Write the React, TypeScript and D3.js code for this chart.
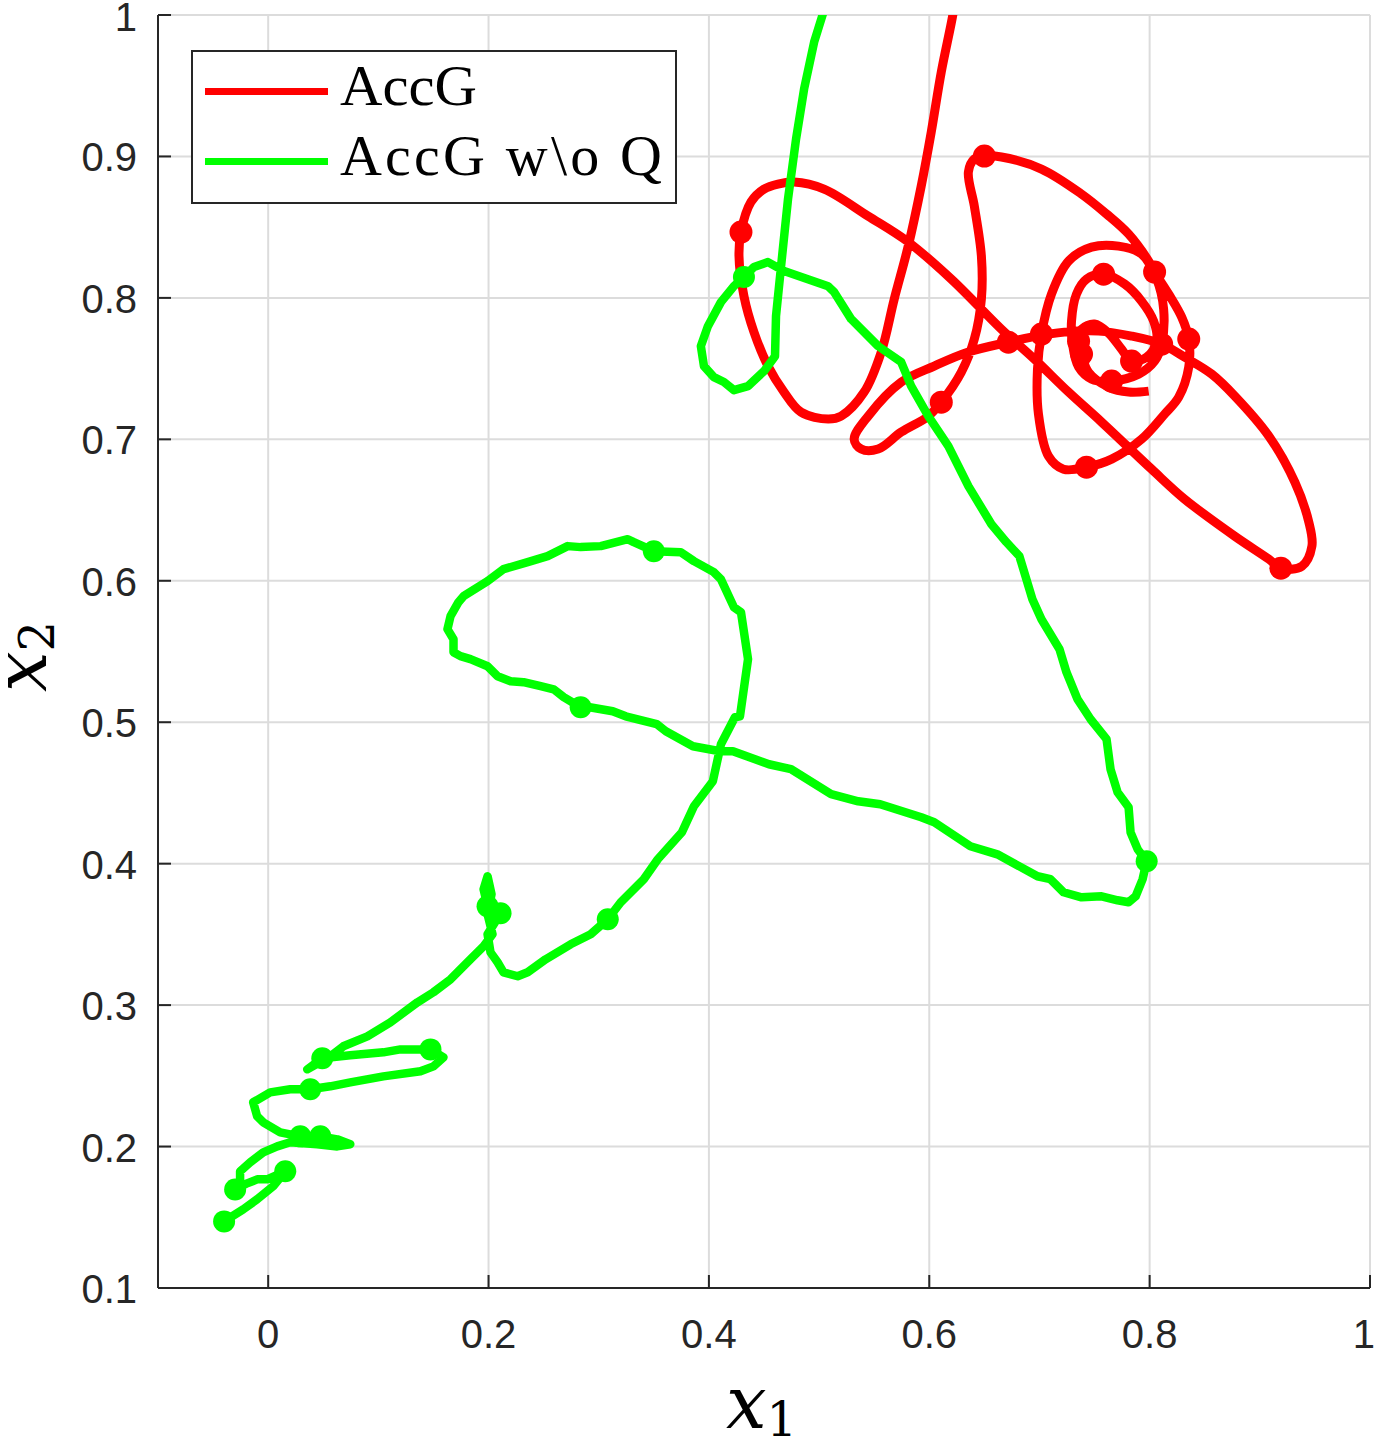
import React from "react";
import * as d3 from "d3";

// ---------- data (x1, x2) ----------
const X_TICKS = [0, 0.2, 0.4, 0.6, 0.8, 1];
const Y_TICKS = [0.1, 0.2, 0.3, 0.4, 0.5, 0.6, 0.7, 0.8, 0.9, 1];
const X_TICK_LABELS = ["0", "0.2", "0.4", "0.6", "0.8", "1"];
const Y_TICK_LABELS = ["0.1", "0.2", "0.3", "0.4", "0.5", "0.6", "0.7", "0.8", "0.9", "1"];
const SERIES_NAMES = ["AccG", "AccG w\\o Q"];

const accgPath: [number, number][] = [
  [0.623, 1.01], [0.6215, 1.0007], [0.6109, 0.9597], [0.6018, 0.9173], [0.5927, 0.8791],
  [0.5809, 0.8366], [0.5682, 0.7992], [0.5564, 0.7617], [0.5409, 0.7334], [0.52, 0.7164],
  [0.5082, 0.7143], [0.4836, 0.7192], [0.4682, 0.7334], [0.4536, 0.7518], [0.4409, 0.7758],
  [0.4318, 0.8013], [0.4273, 0.8296], [0.4291, 0.8465], [0.4382, 0.8678], [0.45, 0.8769],
  [0.4627, 0.8805], [0.4773, 0.8819], [0.5045, 0.8769], [0.5445, 0.8578], [0.5809, 0.8395],
  [0.62, 0.8133], [0.6655, 0.7779], [0.6955, 0.7567], [0.7264, 0.7334], [0.7564, 0.7122],
  [0.8018, 0.6789], [0.8318, 0.6577], [0.8773, 0.6315], [0.9082, 0.6153], [0.9191, 0.6089],
  [0.9382, 0.6103], [0.9473, 0.6245], [0.9445, 0.6414], [0.9318, 0.6697], [0.9082, 0.7023],
  [0.8773, 0.7306], [0.8564, 0.7461], [0.8318, 0.7581], [0.8109, 0.7673], [0.7836, 0.773],
  [0.7536, 0.7765], [0.7227, 0.7758], [0.6927, 0.7723], [0.6718, 0.7687], [0.6355, 0.7617],
  [0.6045, 0.7518], [0.5745, 0.7405], [0.5445, 0.7164], [0.5318, 0.7001], [0.5382, 0.6931],
  [0.5536, 0.6931], [0.5745, 0.7051], [0.5991, 0.7164], [0.6109, 0.7263], [0.6291, 0.7475],
  [0.6409, 0.7709], [0.6473, 0.7992], [0.6473, 0.8296], [0.6409, 0.8649], [0.6355, 0.889],
  [0.6409, 0.8982], [0.65, 0.9003], [0.6655, 0.8996], [0.7018, 0.8911], [0.7382, 0.8734],
  [0.7609, 0.8593], [0.7809, 0.8451], [0.7991, 0.826], [0.8045, 0.8183], [0.8173, 0.8027],
  [0.8291, 0.7864], [0.8355, 0.7709], [0.8355, 0.7511], [0.8264, 0.7298], [0.8136, 0.7178],
  [0.7927, 0.7001], [0.7655, 0.686], [0.7427, 0.6803], [0.7218, 0.6789], [0.7082, 0.6881],
  [0.6991, 0.7178], [0.6982, 0.7496], [0.7018, 0.7744], [0.7109, 0.8027], [0.7264, 0.826],
  [0.7473, 0.8359], [0.7718, 0.8366], [0.7927, 0.831], [0.8064, 0.8133], [0.8127, 0.7921],
  [0.8109, 0.7673], [0.8045, 0.7553], [0.79, 0.7461], [0.7655, 0.7412], [0.7473, 0.7426],
  [0.7355, 0.7511], [0.73, 0.7673], [0.7291, 0.7836], [0.7336, 0.8027], [0.7427, 0.8133],
  [0.7582, 0.8168], [0.7773, 0.8098], [0.7927, 0.7977], [0.8036, 0.7836], [0.8064, 0.7694],
  [0.7973, 0.7581], [0.7836, 0.7553], [0.7745, 0.7638], [0.7627, 0.7751], [0.75, 0.7815],
  [0.7382, 0.7779], [0.7355, 0.7694], [0.7382, 0.7603], [0.7445, 0.7475], [0.7627, 0.7369],
  [0.7809, 0.7334], [0.7991, 0.7341],
];

const accgMarkers: [number, number][] = [
  [0.4291, 0.8465], [0.9191, 0.6089], [0.6718, 0.7687], [0.6109, 0.7263], [0.65, 0.9003],
  [0.8045, 0.8183], [0.8355, 0.7709], [0.7427, 0.6803], [0.7018, 0.7744], [0.8109, 0.7673],
  [0.7655, 0.7412], [0.7582, 0.8168], [0.7836, 0.7553], [0.7355, 0.7694], [0.7382, 0.7603],
];

const noQPath: [number, number][] = [
  [0.5036, 1.0057], [0.5034, 1.0007], [0.4955, 0.9809], [0.4864, 0.9477], [0.4791, 0.9123],
  [0.4718, 0.8699], [0.4655, 0.8225], [0.4609, 0.7871], [0.46, 0.7588], [0.45, 0.7482],
  [0.4355, 0.7376], [0.4227, 0.7348], [0.4136, 0.7405], [0.4045, 0.744], [0.3955, 0.7518],
  [0.3927, 0.7659], [0.3991, 0.78], [0.4109, 0.797], [0.4227, 0.8083], [0.4318, 0.8147],
  [0.4409, 0.8218], [0.4536, 0.8253], [0.4682, 0.819], [0.5082, 0.8083], [0.5136, 0.8041],
  [0.5291, 0.785], [0.5536, 0.7659], [0.5745, 0.7546], [0.5836, 0.7376], [0.5991, 0.7164],
  [0.6173, 0.6952], [0.6355, 0.6669], [0.6564, 0.64], [0.67, 0.6273], [0.6818, 0.6174],
  [0.6936, 0.587], [0.7018, 0.5728], [0.7182, 0.5516], [0.7245, 0.5354], [0.7345, 0.5163],
  [0.7464, 0.5021], [0.7609, 0.488], [0.7645, 0.4668], [0.7709, 0.4505], [0.7809, 0.4399],
  [0.7827, 0.4222], [0.7891, 0.4102], [0.7973, 0.4017], [0.7936, 0.389], [0.7873, 0.3769],
  [0.7809, 0.3727], [0.7709, 0.3741], [0.7564, 0.3769], [0.7382, 0.3762], [0.7218, 0.3798],
  [0.71, 0.389], [0.6982, 0.3911], [0.6618, 0.4066], [0.6373, 0.4123], [0.6045, 0.4293],
  [0.5927, 0.4328], [0.5555, 0.442], [0.5355, 0.4441], [0.5109, 0.4491], [0.4745, 0.4668],
  [0.4545, 0.4703], [0.4218, 0.4795], [0.41, 0.4795], [0.3855, 0.483], [0.3609, 0.4936],
  [0.3527, 0.4986], [0.3245, 0.5042], [0.3127, 0.5078], [0.2918, 0.5106], [0.2836, 0.5106],
  [0.2682, 0.5177], [0.2591, 0.5233], [0.2473, 0.5255], [0.2318, 0.5283], [0.22, 0.529],
  [0.2082, 0.5325], [0.1991, 0.5396], [0.1836, 0.5446], [0.1745, 0.5467], [0.1682, 0.5495],
  [0.1682, 0.5587], [0.1627, 0.5658], [0.1655, 0.575], [0.1727, 0.5849], [0.1773, 0.5891],
  [0.1991, 0.5997], [0.2136, 0.6082], [0.2355, 0.6132], [0.2536, 0.6174], [0.2718, 0.6245],
  [0.2836, 0.6238], [0.3018, 0.6245], [0.3264, 0.6294], [0.3318, 0.6273], [0.35, 0.6209],
  [0.3745, 0.6202], [0.3864, 0.6139], [0.4045, 0.6061], [0.4109, 0.6011], [0.4227, 0.5813],
  [0.4291, 0.5778], [0.4355, 0.5446], [0.4282, 0.5042], [0.4236, 0.5035], [0.4109, 0.4844],
  [0.4036, 0.4583], [0.3864, 0.4406], [0.3755, 0.4222], [0.3536, 0.4031], [0.3409, 0.389],
  [0.32, 0.3727], [0.3082, 0.3607], [0.2927, 0.3501], [0.2745, 0.343], [0.2518, 0.3324],
  [0.2355, 0.3232], [0.2264, 0.3204], [0.2136, 0.3232], [0.2082, 0.3303], [0.2018, 0.3373],
  [0.1991, 0.3501], [0.2109, 0.3649], [0.1991, 0.3699], [0.1955, 0.3819], [0.1991, 0.3911],
  [0.2027, 0.3784], [0.1991, 0.3642], [0.2036, 0.3501], [0.1955, 0.3416], [0.1836, 0.3324],
  [0.1655, 0.3182], [0.15, 0.3091], [0.1355, 0.302], [0.1109, 0.2878], [0.09, 0.2779],
  [0.0682, 0.2709], [0.0564, 0.2638], [0.0355, 0.2546], [0.0491, 0.2624], [0.0745, 0.2645],
  [0.1045, 0.2666], [0.12, 0.2687], [0.1473, 0.2687], [0.1591, 0.2631], [0.15, 0.2567],
  [0.1382, 0.2532], [0.1045, 0.2496], [0.0745, 0.2454], [0.0564, 0.2426], [0.0382, 0.2405],
  [0.02, 0.2405], [0.0018, 0.2383], [-0.0136, 0.2313], [-0.01, 0.2214], [-0.0045, 0.2171],
  [0.0109, 0.21], [0.0291, 0.2072], [0.0473, 0.2072], [0.0627, 0.2051], [0.0745, 0.2016],
  [0.0627, 0.2001], [0.0445, 0.2016], [0.02, 0.203], [0.0082, 0.2001], [-0.0045, 0.1959],
  [-0.0164, 0.1888], [-0.0255, 0.1825], [-0.0255, 0.1768], [-0.03, 0.1697], [-0.0191, 0.174],
  [-0.01, 0.1768], [-0.0009, 0.1768], [0.0155, 0.1825], [0.0045, 0.1719], [-0.01, 0.1627],
  [-0.0227, 0.1556], [-0.04, 0.1471],
];

const noQMarkers: [number, number][] = [
  [0.4318, 0.8147], [0.7973, 0.4017], [0.2836, 0.5106], [0.35, 0.6209], [0.3082, 0.3607],
  [0.2109, 0.3649], [0.1991, 0.3699], [0.0491, 0.2624], [0.1473, 0.2687], [0.0382, 0.2405],
  [0.0291, 0.2072], [0.0473, 0.2072], [-0.03, 0.1697], [0.0155, 0.1825], [-0.04, 0.1471],
];

// ---------- layout ----------
const W = 1376;
const H = 1447;
const L = 158, R = 1370, T = 15, B = 1288;
const AX = "#262626";

export default function App() {
  const x = d3.scaleLinear().domain([-0.1, 1]).range([L, R]);
  const y = d3.scaleLinear().domain([0.1, 1]).range([B, T]);

  const smooth = d3
    .line<[number, number]>()
    .x((d) => x(d[0]))
    .y((d) => y(d[1]))
    .curve(d3.curveCatmullRom.alpha(0.5));
  const straight = d3
    .line<[number, number]>()
    .x((d) => x(d[0]))
    .y((d) => y(d[1]));

  const tickFont = "'Liberation Sans', Arial, Helvetica, sans-serif";
  const serif = "'Liberation Serif', 'Times New Roman', serif";

  return (
    <svg
      width={W}
      height={H}
      style={{ position: "absolute", left: 0, top: 0, background: "#fff" }}
    >
      <defs>
        <clipPath id="plotClip">
          <rect x={L} y={T} width={R - L} height={B - T} />
        </clipPath>
      </defs>
      <rect x={0} y={0} width={W} height={H} fill="#fff" />

      {/* grid */}
      <g stroke="#dcdcdc" strokeWidth={2}>
        {X_TICKS.map((t) => (
          <line key={"gx" + t} x1={x(t)} x2={x(t)} y1={T} y2={B} />
        ))}
        {Y_TICKS.map((t) => (
          <line key={"gy" + t} x1={L} x2={R} y1={y(t)} y2={y(t)} />
        ))}
      </g>

      {/* data */}
      <g clipPath="url(#plotClip)">
        <path
          d={smooth(accgPath) || ""}
          fill="none"
          stroke="#ff0000"
          strokeWidth={9}
          strokeLinejoin="round"
          strokeLinecap="butt"
        />
        {accgMarkers.map((d, i) => (
          <circle key={"rm" + i} cx={x(d[0])} cy={y(d[1])} r={11.5} fill="#ff0000" />
        ))}
        <path
          d={straight(noQPath) || ""}
          fill="none"
          stroke="#00ff00"
          strokeWidth={8.5}
          strokeLinejoin="round"
          strokeLinecap="butt"
        />
        {noQMarkers.map((d, i) => (
          <circle key={"gm" + i} cx={x(d[0])} cy={y(d[1])} r={11} fill="#00ff00" />
        ))}
      </g>

      {/* axes */}
      <g stroke={AX} strokeWidth={2} fill="none">
        <line x1={L} x2={R} y1={B} y2={B} />
        <line x1={L} x2={L} y1={T} y2={B} />
        {X_TICKS.map((t) => (
          <line key={"tx" + t} x1={x(t)} x2={x(t)} y1={B} y2={B - 13} />
        ))}
        {Y_TICKS.map((t) => (
          <line key={"ty" + t} x1={L} x2={L + 13} y1={y(t)} y2={y(t)} />
        ))}
      </g>

      {/* tick labels */}
      <g fill={AX} fontFamily={tickFont} fontSize={40}>
        {X_TICKS.map((t, i) => (
          <text
            key={"lx" + t}
            x={i === X_TICKS.length - 1 ? W - 1 : x(t)}
            y={B + 60}
            textAnchor={i === X_TICKS.length - 1 ? "end" : "middle"}
          >
            {X_TICK_LABELS[i]}
          </text>
        ))}
        {Y_TICKS.map((t, i) => (
          <text key={"ly" + t} x={L - 21} y={Math.max(y(t) + 15, 31)} textAnchor="end">
            {Y_TICK_LABELS[i]}
          </text>
        ))}
      </g>

      {/* axis labels */}
      <text x={726} y={1428} fill="#000" fontFamily="'DejaVu Serif', serif">
        <tspan fontStyle="italic" fontSize={72}>x</tspan>
        <tspan fontSize={48} dy={8}>1</tspan>
      </text>
      <text
        transform="translate(46,692) rotate(-90)"
        fill="#000"
        fontFamily="'DejaVu Serif', serif"
      >
        <tspan fontStyle="italic" fontSize={72}>x</tspan>
        <tspan fontSize={48} dy={8}>2</tspan>
      </text>

      {/* legend */}
      <g>
        <rect x={192} y={51} width={484} height={152} fill="#fff" stroke={AX} strokeWidth={2} />
        <line x1={205} x2={328} y1={91.5} y2={91.5} stroke="#ff0000" strokeWidth={7} />
        <line x1={205} x2={328} y1={161.5} y2={161.5} stroke="#00ff00" strokeWidth={7} />
        <text
          x={340}
          y={105}
          fontFamily={serif}
          fontSize={58}
          fill="#000"
          textLength={137}
          lengthAdjust="spacingAndGlyphs"
        >
          {SERIES_NAMES[0]}
        </text>
        <text
          x={340}
          y={175}
          fontFamily={serif}
          fontSize={58}
          fill="#000"
          textLength={322}
          lengthAdjust="spacing"
        >
          {SERIES_NAMES[1]}
        </text>
      </g>
    </svg>
  );
}
